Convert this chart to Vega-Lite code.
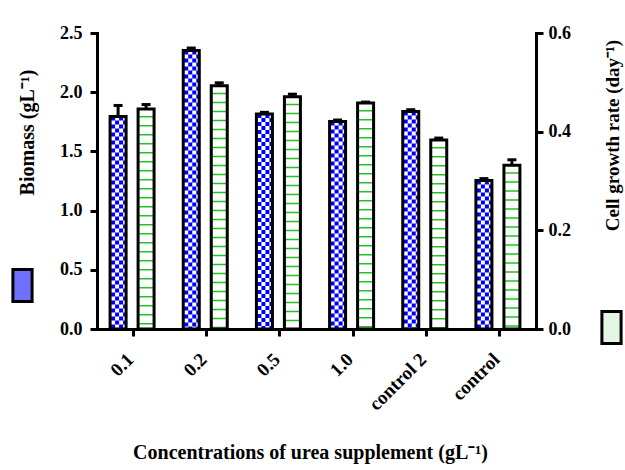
{
  "$schema": "https://vega.github.io/schema/vega-lite/v6.json",
  "width": 439,
  "height": 296,
  "autosize": {"type": "none"},
  "padding": {"left": 97, "top": 33, "right": 89, "bottom": 141},
  "background": "white",
  "config": {
    "view": {"stroke": null},
    "font": "Liberation Serif",
    "axis": {
      "domainColor": "black", "domainWidth": 3, "domainCap": "square",
      "tickColor": "black", "tickWidth": 3, "tickSize": 7,
      "labelFont": "Liberation Serif", "labelFontWeight": "bold", "labelFontSize": 18, "labelColor": "black",
      "titleFont": "Liberation Serif", "titleFontWeight": "bold", "titleFontSize": 20, "titleColor": "black",
      "grid": false
    }
  },
  "data": {
    "values": [
      {"conc": "0.1", "measure": "Biomass", "value": 1.795, "upper": 1.888},
      {"conc": "0.2", "measure": "Biomass", "value": 2.352, "upper": 2.373},
      {"conc": "0.5", "measure": "Biomass", "value": 1.816, "upper": 1.83},
      {"conc": "1.0", "measure": "Biomass", "value": 1.753, "upper": 1.765},
      {"conc": "control 2", "measure": "Biomass", "value": 1.837, "upper": 1.852},
      {"conc": "control", "measure": "Biomass", "value": 1.254, "upper": 1.27},
      {"conc": "0.1", "measure": "Cell growth rate", "value": 0.446, "upper": 0.455},
      {"conc": "0.2", "measure": "Cell growth rate", "value": 0.493, "upper": 0.499},
      {"conc": "0.5", "measure": "Cell growth rate", "value": 0.471, "upper": 0.476},
      {"conc": "1.0", "measure": "Cell growth rate", "value": 0.458, "upper": 0.46},
      {"conc": "control 2", "measure": "Cell growth rate", "value": 0.383, "upper": 0.387},
      {"conc": "control", "measure": "Cell growth rate", "value": 0.332, "upper": 0.343}
    ]
  },
  "encoding": {
    "x": {
      "field": "conc", "type": "nominal", "sort": null,
      "scale": {"paddingInner": 0, "paddingOuter": 0},
      "axis": {
        "title": "Concentrations of urea supplement (gL⁻¹)",
        "labelAngle": -45, "labelAlign": "right", "labelBaseline": "middle",
        "labelPadding": 20, "labelOffset": -3, "labelFontSize": 19,
        "titleX": 213, "titleY": 123, "titleBaseline": "middle", "titleFontSize": 20
      }
    }
  },
  "layer": [
    {
      "transform": [{"filter": "datum.measure === 'Biomass'"}],
      "mark": {"type": "bar", "width": 16, "xOffset": -15.5},
      "encoding": {
        "y": {
          "field": "value", "type": "quantitative",
          "scale": {"domain": [0, 2.5], "nice": false},
          "axis": {
            "orient": "left", "title": "Biomass (gL⁻¹)",
            "values": [0, 0.5, 1, 1.5, 2, 2.5], "format": ".1f", "labelPadding": 8,
            "titleX": -70, "titleY": 99, "titleAngle": -90, "titleAlign": "center", "titleBaseline": "middle"
          }
        },
        "fill": {"field": "measure", "type": "nominal", "scale": {"range": ["#7070ff"]},
          "legend": {"orient": "none", "legendX": -92, "legendY": 235, "title": null, "labelExpr": "''", "padding": 0,
            "symbolType": "M-0.6,-1H0.6V1H-0.6Z", "symbolSize": 1024, "symbolStrokeColor": "black", "symbolStrokeWidth": 3, "symbolOpacity": 1}}
      }
    },
    {
      "transform": [{"filter": "datum.measure === 'Biomass'"}],
      "mark": {"type": "bar", "width": 16, "xOffset": -15.5, "color": "white"},
      "encoding": {
        "y": {"field": "value", "type": "quantitative", "scale": {"domain": [0, 2.5], "nice": false}, "axis": null}
      }
    },
    {
      "transform": [{"filter": "datum.measure === 'Biomass'"}],
      "mark": {"type": "rule", "xOffset": -20.5, "strokeWidth": 4, "strokeDash": [4, 4], "strokeDashOffset": 0, "strokeCap": "butt", "color": "#0000ff"},
      "encoding": {
        "y": {"field": "value", "type": "quantitative", "scale": {"domain": [0, 2.5], "nice": false}, "axis": null},
        "y2": {"datum": 0}
      }
    },
    {
      "transform": [{"filter": "datum.measure === 'Biomass'"}],
      "mark": {"type": "rule", "xOffset": -16.5, "strokeWidth": 4, "strokeDash": [4, 4], "strokeDashOffset": 4, "strokeCap": "butt", "color": "#0000ff"},
      "encoding": {
        "y": {"field": "value", "type": "quantitative", "scale": {"domain": [0, 2.5], "nice": false}, "axis": null},
        "y2": {"datum": 0}
      }
    },
    {
      "transform": [{"filter": "datum.measure === 'Biomass'"}],
      "mark": {"type": "rule", "xOffset": -12.5, "strokeWidth": 4, "strokeDash": [4, 4], "strokeDashOffset": 0, "strokeCap": "butt", "color": "#0000ff"},
      "encoding": {
        "y": {"field": "value", "type": "quantitative", "scale": {"domain": [0, 2.5], "nice": false}, "axis": null},
        "y2": {"datum": 0}
      }
    },
    {
      "transform": [{"filter": "datum.measure === 'Biomass'"}],
      "mark": {"type": "rule", "xOffset": -8.5, "strokeWidth": 4, "strokeDash": [4, 4], "strokeDashOffset": 4, "strokeCap": "butt", "color": "#0000ff"},
      "encoding": {
        "y": {"field": "value", "type": "quantitative", "scale": {"domain": [0, 2.5], "nice": false}, "axis": null},
        "y2": {"datum": 0}
      }
    },
    {
      "transform": [{"filter": "datum.measure === 'Biomass'"}],
      "mark": {"type": "bar", "width": 16, "xOffset": -15.5, "filled": false, "stroke": "black", "strokeWidth": 3},
      "encoding": {
        "y": {"field": "value", "type": "quantitative", "scale": {"domain": [0, 2.5], "nice": false}, "axis": null}
      }
    },
    {
      "transform": [{"filter": "datum.measure === 'Biomass'"}],
      "mark": {"type": "rule", "xOffset": -15.5, "strokeWidth": 3, "color": "black"},
      "encoding": {
        "y": {"field": "value", "type": "quantitative", "scale": {"domain": [0, 2.5], "nice": false}, "axis": null},
        "y2": {"field": "upper"}
      }
    },
    {
      "transform": [{"filter": "datum.measure === 'Biomass'"}],
      "mark": {"type": "tick", "orient": "horizontal", "xOffset": -15.5, "size": 9, "thickness": 3, "color": "black", "opacity": 1},
      "encoding": {
        "y": {"field": "upper", "type": "quantitative", "scale": {"domain": [0, 2.5], "nice": false}, "axis": null}
      }
    },
    {
      "transform": [{"filter": "datum.measure === 'Cell growth rate'"}],
      "mark": {"type": "bar", "width": 16, "xOffset": 12.5},
      "encoding": {
        "y": {
          "field": "value", "type": "quantitative",
          "scale": {"domain": [0, 0.6], "nice": false},
          "axis": {
            "orient": "right", "title": "Cell growth rate (day⁻¹)",
            "values": [0, 0.2, 0.4, 0.6], "format": ".1f", "labelPadding": 5,
            "titleX": 76, "titleY": 102, "titleAngle": -90, "titleAlign": "center", "titleBaseline": "middle", "titleFontSize": 19
          }
        },
        "fill": {"field": "measure", "type": "nominal", "scale": {"range": ["#e2f6e2"]},
          "legend": {"orient": "none", "legendX": 497, "legendY": 277, "title": null, "labelExpr": "''", "padding": 0,
            "symbolType": "M-0.6,-1H0.6V1H-0.6Z", "symbolSize": 1024, "symbolStrokeColor": "black", "symbolStrokeWidth": 3, "symbolOpacity": 1}}
      }
    },
    {
      "transform": [{"filter": "datum.measure === 'Cell growth rate'"}],
      "mark": {"type": "bar", "width": 16, "xOffset": 12.5, "color": "white"},
      "encoding": {
        "y": {"field": "value", "type": "quantitative", "scale": {"domain": [0, 0.6], "nice": false}, "axis": null}
      }
    },
    {
      "transform": [{"filter": "datum.measure === 'Cell growth rate'"}],
      "mark": {"type": "rule", "xOffset": 12.5, "strokeWidth": 16, "strokeDash": [1.5, 7.5], "strokeDashOffset": 2, "strokeCap": "butt", "color": "#1fc41f"},
      "encoding": {
        "y": {"field": "value", "type": "quantitative", "scale": {"domain": [0, 0.6], "nice": false}, "axis": null},
        "y2": {"datum": 0}
      }
    },
    {
      "transform": [{"filter": "datum.measure === 'Cell growth rate'"}],
      "mark": {"type": "bar", "width": 16, "xOffset": 12.5, "filled": false, "stroke": "black", "strokeWidth": 3},
      "encoding": {
        "y": {"field": "value", "type": "quantitative", "scale": {"domain": [0, 0.6], "nice": false}, "axis": null}
      }
    },
    {
      "transform": [{"filter": "datum.measure === 'Cell growth rate'"}],
      "mark": {"type": "rule", "xOffset": 12.5, "strokeWidth": 3, "color": "black"},
      "encoding": {
        "y": {"field": "value", "type": "quantitative", "scale": {"domain": [0, 0.6], "nice": false}, "axis": null},
        "y2": {"field": "upper"}
      }
    },
    {
      "transform": [{"filter": "datum.measure === 'Cell growth rate'"}],
      "mark": {"type": "tick", "orient": "horizontal", "xOffset": 12.5, "size": 9, "thickness": 3, "color": "black", "opacity": 1},
      "encoding": {
        "y": {"field": "upper", "type": "quantitative", "scale": {"domain": [0, 0.6], "nice": false}, "axis": null}
      }
    }
  ],
  "resolve": {
    "scale": {"y": "independent", "fill": "independent"},
    "legend": {"fill": "independent"}
  }
}
